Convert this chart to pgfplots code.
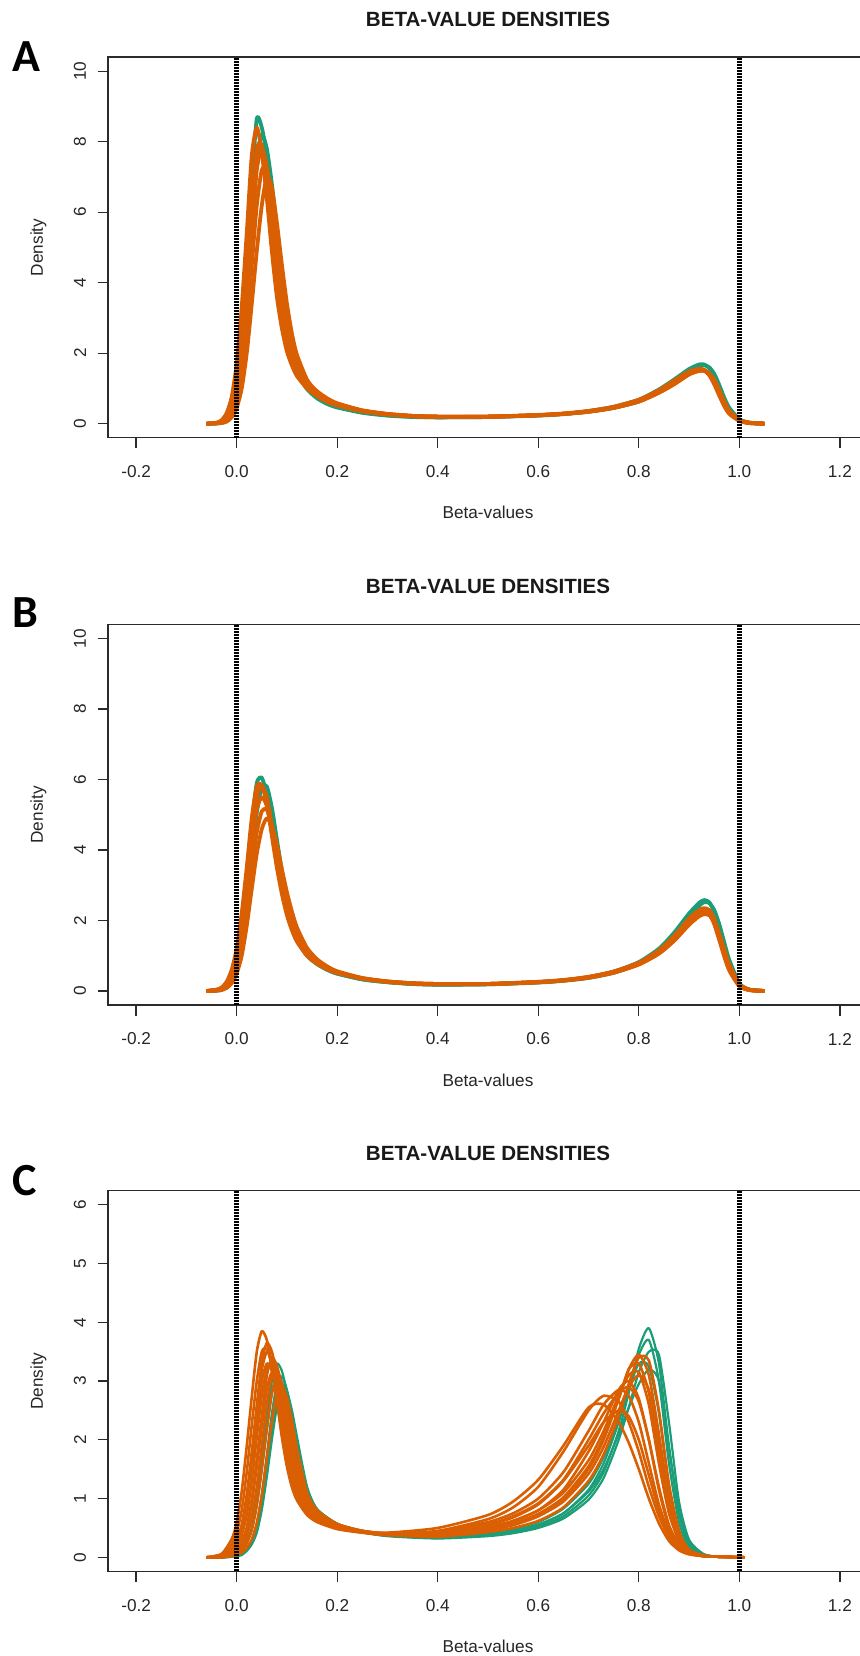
\documentclass[border=0pt]{standalone}
\usepackage{fontspec}
\setmainfont{Liberation Sans}
\newfontfamily\letterfont{Carlito}
\usepackage{pgfplots}
\usepackage{pgfplotstable}
\pgfplotsset{compat=1.18}
\definecolor{dgreen}{HTML}{1B9E77}
\definecolor{dorange}{HTML}{D95F02}
\definecolor{axgray}{HTML}{2B2B2B}

\pgfplotstableread{
x     g1    g2    o1    o2    o3    o4    o5
-0.06 0     0     0     0     0     0     0
-0.04 0.01  0.01  0.03  0.02  0.01  0.02  0.01
-0.03 0.04  0.02  0.10  0.06  0.03  0.05  0.02
-0.02 0.12  0.07  0.30  0.18  0.10  0.14  0.06
-0.01 0.35  0.20  0.75  0.45  0.28  0.36  0.18
0.00  0.90  0.55  1.70  1.05  0.70  0.85  0.45
0.01  2.10  1.40  3.30  2.20  1.50  1.80  1.00
0.02  4.20  3.00  5.40  4.00  2.80  3.40  2.00
0.03  6.80  5.30  7.60  6.20  4.50  5.40  3.40
0.04  8.65  7.50  8.40  7.80  6.20  7.20  4.90
0.05  8.40  8.20  7.70  7.90  7.20  7.80  6.20
0.06  7.60  7.80  6.40  6.90  7.20  7.30  7.00
0.07  6.40  6.80  4.90  5.50  6.40  6.10  6.70
0.08  4.90  5.50  3.60  4.10  5.20  4.80  5.70
0.09  3.60  4.20  2.70  3.05  4.00  3.60  4.50
0.10  2.60  3.10  2.05  2.30  3.00  2.75  3.40
0.11  1.90  2.30  1.65  1.80  2.30  2.15  2.55
0.12  1.45  1.70  1.35  1.45  1.80  1.70  1.95
0.14  0.98  1.10  1.00  1.05  1.20  1.20  1.25
0.16  0.72  0.78  0.78  0.80  0.88  0.92  0.90
0.18  0.56  0.60  0.62  0.63  0.68  0.72  0.69
0.20  0.46  0.48  0.52  0.52  0.55  0.58  0.55
0.25  0.31  0.32  0.36  0.35  0.37  0.38  0.37
0.30  0.23  0.24  0.27  0.26  0.27  0.28  0.27
0.35  0.19  0.20  0.22  0.21  0.22  0.22  0.22
0.40  0.18  0.18  0.20  0.19  0.20  0.20  0.20
0.50  0.19  0.19  0.20  0.20  0.20  0.20  0.20
0.60  0.24  0.23  0.25  0.24  0.24  0.24  0.24
0.65  0.28  0.27  0.29  0.28  0.28  0.28  0.28
0.70  0.36  0.34  0.36  0.35  0.34  0.35  0.34
0.75  0.48  0.45  0.48  0.46  0.45  0.46  0.45
0.80  0.68  0.63  0.68  0.65  0.63  0.64  0.63
0.84  0.97  0.90  0.95  0.92  0.88  0.90  0.88
0.87  1.25  1.16  1.22  1.18  1.12  1.15  1.12
0.90  1.55  1.48  1.48  1.45  1.40  1.42  1.40
0.92  1.68  1.64  1.56  1.55  1.50  1.52  1.50
0.93  1.68  1.66  1.52  1.53  1.50  1.51  1.50
0.94  1.58  1.60  1.38  1.42  1.42  1.40  1.43
0.95  1.35  1.42  1.12  1.18  1.22  1.18  1.25
0.96  1.00  1.10  0.80  0.87  0.92  0.88  0.95
0.97  0.65  0.74  0.50  0.56  0.60  0.57  0.63
0.98  0.38  0.45  0.28  0.32  0.35  0.33  0.37
1.00  0.10  0.13  0.08  0.09  0.10  0.09  0.11
1.02  0.02  0.03  0.02  0.02  0.03  0.02  0.03
1.05  0     0     0     0     0     0     0
}\dataA

\pgfplotstableread{
x     g1    g2    o1    o2    o3    o4    o5
-0.06 0     0     0     0     0     0     0
-0.04 0.02  0.01  0.04  0.03  0.02  0.03  0.01
-0.03 0.06  0.03  0.10  0.08  0.05  0.07  0.03
-0.02 0.17  0.10  0.26  0.20  0.14  0.18  0.09
-0.01 0.42  0.26  0.60  0.45  0.32  0.42  0.22
0.00  0.95  0.60  1.20  0.95  0.70  0.88  0.50
0.01  1.90  1.25  2.20  1.80  1.35  1.65  1.00
0.02  3.25  2.35  3.50  3.00  2.35  2.80  1.85
0.03  4.75  3.75  4.90  4.40  3.50  4.10  2.90
0.04  5.90  5.05  5.80  5.50  4.50  5.15  3.90
0.05  6.05  5.80  5.85  5.80  5.10  5.50  4.60
0.06  5.55  5.80  5.30  5.50  5.15  5.25  4.90
0.07  4.65  5.20  4.40  4.70  4.70  4.55  4.70
0.08  3.70  4.30  3.50  3.80  4.00  3.70  4.15
0.09  2.90  3.40  2.75  3.00  3.25  2.95  3.45
0.10  2.25  2.65  2.15  2.35  2.60  2.35  2.80
0.11  1.78  2.05  1.72  1.85  2.08  1.87  2.25
0.12  1.43  1.62  1.40  1.50  1.68  1.52  1.80
0.14  1.00  1.08  1.00  1.05  1.15  1.07  1.22
0.16  0.76  0.80  0.77  0.80  0.86  0.82  0.90
0.18  0.60  0.62  0.62  0.63  0.67  0.65  0.70
0.20  0.49  0.50  0.51  0.52  0.54  0.53  0.56
0.25  0.33  0.33  0.35  0.35  0.36  0.36  0.37
0.30  0.25  0.25  0.26  0.26  0.27  0.27  0.27
0.35  0.20  0.20  0.21  0.21  0.22  0.22  0.22
0.40  0.18  0.18  0.19  0.19  0.20  0.20  0.20
0.50  0.19  0.19  0.20  0.20  0.20  0.20  0.20
0.60  0.25  0.24  0.26  0.26  0.25  0.25  0.25
0.65  0.30  0.29  0.31  0.31  0.30  0.30  0.30
0.70  0.39  0.37  0.40  0.40  0.38  0.39  0.38
0.75  0.55  0.52  0.55  0.55  0.52  0.54  0.52
0.80  0.82  0.78  0.80  0.80  0.76  0.78  0.75
0.84  1.20  1.13  1.15  1.15  1.08  1.12  1.06
0.87  1.65  1.55  1.55  1.55  1.45  1.50  1.42
0.90  2.20  2.10  2.05  2.05  1.92  2.00  1.88
0.92  2.50  2.42  2.28  2.30  2.17  2.25  2.12
0.93  2.58  2.52  2.30  2.35  2.22  2.30  2.18
0.94  2.52  2.50  2.20  2.30  2.18  2.24  2.15
0.95  2.25  2.30  1.90  2.05  1.98  2.00  1.97
0.96  1.80  1.90  1.45  1.60  1.60  1.58  1.62
0.97  1.25  1.38  0.98  1.10  1.15  1.10  1.18
0.98  0.75  0.88  0.58  0.65  0.72  0.67  0.75
1.00  0.17  0.22  0.14  0.15  0.18  0.16  0.19
1.02  0.03  0.04  0.03  0.03  0.04  0.03  0.04
1.05  0     0     0     0     0     0     0
}\dataB

\pgfplotstableread{
x     g1   g2   g3   g4   g5   o1   o2   o3   o4   o5   o6   o7   o8   o9   o10  o11
-0.06 0    0    0    0    0    0    0    0    0    0    0    0    0    0    0    0
-0.03 0    0    0    0    0    0.06 0.02 0.01 0.01 0.00 0.02 0.02 0.01 0.00 0.04 0.00
-0.01 0.02 0.01 0.02 0.01 0.01 0.31 0.15 0.05 0.05 0.03 0.14 0.13 0.09 0.04 0.22 0.02
0.00  0.05 0.03 0.05 0.02 0.03 0.58 0.29 0.14 0.13 0.05 0.28 0.26 0.20 0.08 0.42 0.04
0.01  0.13 0.04 0.12 0.04 0.07 1.12 0.55 0.27 0.25 0.12 0.53 0.50 0.38 0.18 0.80 0.08
0.02  0.26 0.12 0.24 0.11 0.15 1.89 1.06 0.51 0.47 0.24 1.02 0.96 0.72 0.35 1.45 0.16
0.03  0.50 0.24 0.47 0.22 0.30 2.73 1.79 0.99 0.91 0.46 1.72 1.62 1.30 0.68 2.25 0.30
0.04  0.96 0.44 0.90 0.42 0.58 3.50 2.59 1.67 1.54 0.88 2.49 2.34 2.05 1.20 3.00 0.58
0.05  1.62 0.86 1.52 0.81 1.08 3.85 3.32 2.41 2.24 1.49 3.19 3.00 2.75 1.90 3.50 1.05
0.06  2.34 1.45 2.20 1.37 1.75 3.70 3.65 3.09 2.87 2.17 3.50 3.30 3.20 2.60 3.55 1.68
0.07  3.00 2.12 2.82 2.00 2.45 3.27 3.50 3.40 3.15 2.78 3.36 3.17 3.28 3.10 3.25 2.30
0.08  3.30 2.70 3.10 2.55 2.95 2.66 3.10 3.26 3.05 3.05 2.98 2.80 3.00 3.20 2.70 2.80
0.09  3.17 2.95 2.98 2.80 3.08 2.04 2.52 2.89 2.72 2.93 2.42 2.28 2.55 2.95 2.10 2.92
0.10  2.80 2.83 2.63 2.70 2.85 1.54 1.93 2.35 2.25 2.59 1.86 1.78 2.05 2.50 1.60 2.72
0.11  2.28 2.50 2.15 2.40 2.40 1.19 1.46 1.80 1.75 2.10 1.40 1.38 1.60 1.98 1.25 2.32
0.12  1.75 2.05 1.68 1.95 1.90 0.97 1.14 1.36 1.38 1.62 1.09 1.10 1.25 1.52 1.02 1.85
0.14  1.05 1.20 1.05 1.18 1.12 0.72 0.82 0.88 0.95 1.00 0.78 0.82 0.86 0.95 0.76 1.10
0.16  0.78 0.82 0.78 0.82 0.80 0.60 0.66 0.70 0.74 0.76 0.64 0.68 0.69 0.74 0.63 0.80
0.20  0.56 0.57 0.57 0.57 0.57 0.48 0.52 0.54 0.56 0.56 0.50 0.54 0.54 0.56 0.50 0.57
0.25  0.43 0.43 0.44 0.43 0.43 0.42 0.43 0.43 0.45 0.44 0.42 0.45 0.44 0.45 0.44 0.45
0.30  0.37 0.37 0.38 0.36 0.37 0.40 0.39 0.38 0.40 0.38 0.38 0.41 0.40 0.40 0.42 0.39
0.40  0.33 0.33 0.35 0.32 0.34 0.45 0.38 0.36 0.40 0.35 0.40 0.44 0.42 0.38 0.50 0.37
0.50  0.38 0.39 0.42 0.36 0.40 0.65 0.50 0.46 0.52 0.43 0.55 0.60 0.56 0.49 0.72 0.47
0.55  0.43 0.45 0.49 0.41 0.46 0.85 0.62 0.55 0.62 0.50 0.68 0.75 0.70 0.58 0.95 0.55
0.60  0.52 0.55 0.60 0.50 0.56 1.20 0.80 0.70 0.80 0.62 0.90 1.00 0.92 0.74 1.32 0.70
0.65  0.70 0.75 0.83 0.66 0.75 1.80 1.15 0.98 1.10 0.85 1.30 1.45 1.32 1.02 1.90 0.95
0.70  1.05 1.15 1.25 0.98 1.12 2.50 1.80 1.50 1.65 1.30 1.90 2.15 2.00 1.55 2.55 1.42
0.73  1.45 1.60 1.70 1.35 1.50 2.75 2.30 2.00 2.15 1.75 2.30 2.60 2.45 2.05 2.60 1.88
0.76  2.15 2.30 2.35 2.00 2.10 2.65 2.85 2.70 2.75 2.40 2.50 2.85 2.80 2.70 2.30 2.50
0.78  2.80 2.90 2.85 2.55 2.55 2.30 3.00 3.20 3.10 2.95 2.40 2.75 2.90 3.20 1.95 2.90
0.80  3.55 3.45 3.30 3.15 2.95 1.80 2.70 3.45 3.15 3.40 2.00 2.30 2.65 3.30 1.50 3.10
0.82  3.90 3.70 3.25 3.50 3.20 1.20 2.00 3.10 2.60 3.35 1.40 1.60 2.00 2.80 1.00 2.85
0.84  3.30 3.00 2.45 3.45 3.00 0.70 1.20 2.10 1.60 2.50 0.80 0.90 1.15 1.80 0.58 2.00
0.86  1.90 1.60 1.20 2.30 1.85 0.35 0.55 1.00 0.75 1.25 0.40 0.42 0.50 0.85 0.28 0.95
0.88  0.75 0.60 0.45 0.95 0.80 0.15 0.22 0.38 0.28 0.45 0.17 0.17 0.20 0.32 0.12 0.35
0.90  0.22 0.17 0.13 0.30 0.25 0.06 0.08 0.12 0.09 0.13 0.07 0.06 0.07 0.10 0.05 0.11
0.93  0.04 0.03 0.03 0.05 0.05 0.02 0.02 0.03 0.02 0.03 0.02 0.02 0.02 0.02 0.02 0.02
0.96  0.01 0.01 0.01 0.01 0.01 0.01 0.01 0.01 0.01 0.01 0.01 0.01 0.01 0.01 0.01 0.01
1.01  0    0    0    0    0    0    0    0    0    0    0    0    0    0    0    0
}\dataC

\pgfplotsset{
  betaax/.style={
    scale only axis, width=760pt, height=380.7pt,
    xmin=-0.256, xmax=1.256,
    axis line style={axgray, line width=1.3pt},
    every tick/.style={axgray, line width=1.3pt},
    major tick length=10.5pt,
    tick align=outside,
    tick pos=left,
    xtick={-0.2,0,0.2,0.4,0.6,0.8,1.0,1.2},
    xticklabels={-0.2,0.0,0.2,0.4,0.6,0.8,1.0,1.2},
    tick label style={font=\fontsize{17.2}{20}\selectfont, text=black!85},
    xticklabel style={anchor=center, yshift=-23.4pt},
    yticklabel style={anchor=center, xshift=-17.5pt, rotate=90},
    title={BETA-VALUE DENSITIES},
    title style={font=\bfseries\fontsize{20.6}{24}\selectfont, at={(0.5,1.0828)}, anchor=center, yshift=0pt, text=black!90},
    xlabel={Beta-values},
    xlabel style={font=\fontsize{17.2}{20}\selectfont, at={(0.5,-0.197)}, anchor=center, text=black!85},
    ylabel={Density},
    ylabel style={font=\fontsize{17.2}{20}\selectfont, at={(-0.0914,0.5)}, anchor=center, text=black!85},
    clip=true,
  },
  gline/.style={dgreen, line width=3.8pt, smooth, tension=0.4, line join=round},
  oline/.style={dorange, line width=3.8pt, smooth, tension=0.4, line join=round},
  gthin/.style={dgreen, line width=2.2pt, smooth, tension=0.4, line join=round},
  othin/.style={dorange, line width=2.6pt, smooth, tension=0.4, line join=round},
  vline/.style={black, line width=4.5pt, dash pattern=on 2pt off 1pt},
}

\begin{document}
\begin{tikzpicture}
% Panel A
\begin{axis}[betaax, at={(108pt,-437.8pt)}, anchor=south west,
  ymin=-0.4, ymax=10.4, ytick={0,2,4,6,8,10}, yticklabels={0,2,4,6,8,10}]
\addplot[gline] table[x=x,y=g1]{\dataA};
\addplot[gline] table[x=x,y=g2]{\dataA};
\addplot[oline] table[x=x,y=o5]{\dataA};
\addplot[oline] table[x=x,y=o1]{\dataA};
\addplot[oline] table[x=x,y=o3]{\dataA};
\addplot[oline] table[x=x,y=o4]{\dataA};
\addplot[oline] table[x=x,y=o2]{\dataA};
\addplot[vline] coordinates {(0,-0.4) (0,10.4)};
\addplot[vline] coordinates {(1,-0.4) (1,10.4)};
\end{axis}
% Panel B
\begin{axis}[betaax, at={(108pt,-1005.1pt)}, anchor=south west,
  ymin=-0.4, ymax=10.4, ytick={0,2,4,6,8,10}, yticklabels={0,2,4,6,8,10}]
\addplot[gline] table[x=x,y=g1]{\dataB};
\addplot[gline] table[x=x,y=g2]{\dataB};
\addplot[oline] table[x=x,y=o5]{\dataB};
\addplot[oline] table[x=x,y=o1]{\dataB};
\addplot[oline] table[x=x,y=o3]{\dataB};
\addplot[oline] table[x=x,y=o4]{\dataB};
\addplot[oline] table[x=x,y=o2]{\dataB};
\addplot[vline] coordinates {(0,-0.4) (0,10.4)};
\addplot[vline] coordinates {(1,-0.4) (1,10.4)};
\end{axis}
% Panel C
\begin{axis}[betaax, at={(108pt,-1571.4pt)}, anchor=south west,
  ymin=-0.24, ymax=6.24, ytick={0,1,2,3,4,5,6}, yticklabels={0,1,2,3,4,5,6}]
\addplot[gthin] table[x=x,y=g1]{\dataC};
\addplot[gthin] table[x=x,y=g2]{\dataC};
\addplot[gthin] table[x=x,y=g3]{\dataC};
\addplot[gthin] table[x=x,y=g4]{\dataC};
\addplot[gthin] table[x=x,y=g5]{\dataC};
\addplot[othin] table[x=x,y=o1]{\dataC};
\addplot[othin] table[x=x,y=o10]{\dataC};
\addplot[othin] table[x=x,y=o2]{\dataC};
\addplot[othin] table[x=x,y=o8]{\dataC};
\addplot[othin] table[x=x,y=o3]{\dataC};
\addplot[othin] table[x=x,y=o4]{\dataC};
\addplot[othin] table[x=x,y=o9]{\dataC};
\addplot[othin] table[x=x,y=o11]{\dataC};
\addplot[othin] table[x=x,y=o5]{\dataC};
\addplot[othin] table[x=x,y=o6]{\dataC};
\addplot[othin] table[x=x,y=o7]{\dataC};
\addplot[vline] coordinates {(0,-0.24) (0,6.24)};
\addplot[vline] coordinates {(1,-0.24) (1,6.24)};
\end{axis}
% panel letters
\node[font=\letterfont\bfseries\fontsize{46}{50}\selectfont, anchor=center] at (26pt,-56.7pt) {A};
\node[font=\letterfont\bfseries\fontsize{46}{50}\selectfont, anchor=center] at (25pt,-613pt) {B};
\node[font=\letterfont\bfseries\fontsize{46}{50}\selectfont, anchor=center] at (25pt,-1181pt) {C};
\pgfresetboundingbox
\path[use as bounding box] (0pt,0pt) rectangle (859pt,-1656pt);
\end{tikzpicture}
\end{document}
